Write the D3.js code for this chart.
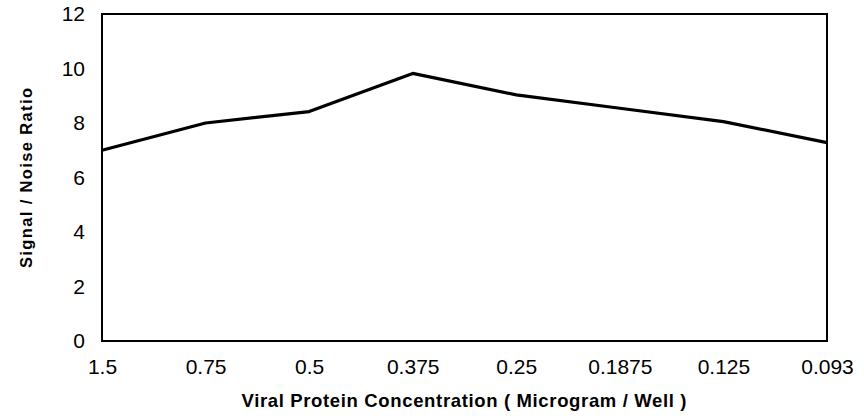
<!DOCTYPE html>
<html>
<head>
<meta charset="utf-8">
<script src="https://cdn.jsdelivr.net/npm/d3@7"></script>
<style>
  body { margin: 0; background: #fff; }
  svg { display: block; font-family: "Liberation Sans", Arial, sans-serif; }
</style>
</head>
<body>
<div id="chart"></div>
<script>
let width = 864;
let height = 418;
let margin = ({top: 14, right: 37, bottom: 77, left: 102});

// chart values
let concentrations = ["1.5", "0.75", "0.5", "0.375", "0.25", "0.1875", "0.125", "0.093"];
let ratios = [7.0, 8.0, 8.42, 9.82, 9.03, 8.54, 8.05, 7.28];
let yTicks = [0, 2, 4, 6, 8, 10, 12];

let svg = d3.select("#chart")
    .append("svg")
    .attr("width", width)
    .attr("height", height);

let xScale = d3.scalePoint()
    .domain(concentrations)
    .range([margin.left, width - margin.right])
    .padding(0);

let yScale = d3.scaleLinear()
    .domain([0, 12])
    .range([height - margin.bottom, margin.top]);

// plot frame
svg.append("rect")
    .attr("x", margin.left)
    .attr("y", margin.top)
    .attr("width", width - margin.left - margin.right)
    .attr("height", height - margin.top - margin.bottom)
    .attr("fill", "none")
    .attr("stroke", "#000")
    .attr("stroke-width", 2);

// y axis labels (no tick marks)
let yAxis = d3.axisLeft(yScale)
    .tickValues(yTicks)
    .tickSize(0)
    .tickPadding(17);

svg.append("g")
    .attr("transform", "translate(" + margin.left + ",0)")
    .call(yAxis)
    .call(g => g.select(".domain").remove())
    .selectAll("text")
    .attr("font-size", 21)
    .attr("font-family", "Liberation Sans, Arial, sans-serif")
    .attr("fill", "#000");

// x axis labels
let xAxis = d3.axisBottom(xScale)
    .tickSize(0)
    .tickPadding(18);

svg.append("g")
    .attr("transform", "translate(0," + (height - margin.bottom) + ")")
    .call(xAxis)
    .call(g => g.select(".domain").remove())
    .selectAll("text")
    .attr("font-size", 21)
    .attr("font-family", "Liberation Sans, Arial, sans-serif")
    .attr("fill", "#000");

// the line
let line = d3.line()
    .x((d, i) => xScale(concentrations[i]))
    .y(d => yScale(d));

svg.append("path")
    .datum(ratios)
    .attr("d", line)
    .attr("fill", "none")
    .attr("stroke", "#000")
    .attr("stroke-width", 3.2)
    .attr("stroke-linejoin", "round");

// axis titles
svg.append("text")
    .attr("x", 464)
    .attr("y", 407)
    .attr("text-anchor", "middle")
    .attr("font-size", 18.5)
    .attr("font-weight", "bold")
    .attr("textLength", 445)
    .attr("lengthAdjust", "spacing")
    .text("Viral Protein Concentration ( Microgram / Well )");

svg.append("text")
    .attr("transform", "translate(32,178) rotate(-90)")
    .attr("text-anchor", "middle")
    .attr("font-size", 16.5)
    .attr("font-weight", "bold")
    .attr("textLength", 180)
    .attr("lengthAdjust", "spacing")
    .text("Signal / Noise Ratio");
</script>
</body>
</html>
